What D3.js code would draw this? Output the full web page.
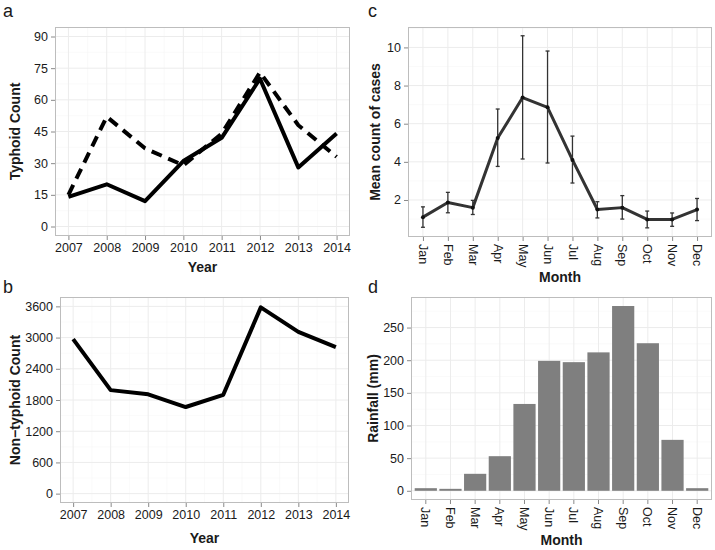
<!DOCTYPE html>
<html>
<head>
<meta charset="utf-8">
<script src="https://cdn.jsdelivr.net/npm/d3@7"></script>
<style>
body{margin:0;background:#fff;}
text{font-family:"Liberation Sans",Arial,sans-serif;}
</style>
</head>
<body>
<svg id="c" width="715" height="550"></svg>
<script>
// ---- data ----
const years = [2007,2008,2009,2010,2011,2012,2013,2014];
const typhoidSolid = [14,20,12,31,42,70,28,44];
const typhoidDashed = [15,52,37,29,44,73,48,33];
const nonTyphoid = [2970,1990,1910,1665,1900,3580,3110,2815];
const months = ["Jan","Feb","Mar","Apr","May","Jun","Jul","Aug","Sep","Oct","Nov","Dec"];
const meanCases = [1.1,1.87,1.6,5.25,7.37,6.86,4.1,1.5,1.6,0.98,0.98,1.5];
const caseLow  = [0.57,1.33,1.24,3.76,4.15,3.94,2.89,1.06,1.0,0.54,0.62,0.92];
const caseHigh = [1.64,2.4,1.98,6.77,10.61,9.81,5.35,1.91,2.23,1.42,1.32,2.08];
const rainfall = [4,3,26,53,133,199,197,212,283,226,78,4];
const typhoidTicks = [0,15,30,45,60,75,90];
const nonTyphoidTicks = [0,600,1200,1800,2400,3000,3600];
const caseTicks = [2,4,6,8,10];
const rainTicks = [0,50,100,150,200,250];

const svg = d3.select("#c");
const borderCol = "#bdbdbd", gridMajor = "#ececec", gridMinor = "#f7f7f7", tickCol = "#8a8a8a", txtCol = "#1a1a1a";

function frame(x0,x1,y0,y1){
  svg.append("rect").attr("x",x0).attr("y",y0).attr("width",x1-x0).attr("height",y1-y0).attr("fill","#fff");
}
function hgrid(y, vals, x0, x1, col, w){
  svg.append("g").selectAll("line").data(vals).join("line")
    .attr("x1",x0).attr("x2",x1).attr("y1",d=>y(d)).attr("y2",d=>y(d))
    .attr("stroke",col).attr("stroke-width",w);
}
function vgrid(xf, vals, y0, y1, col, w){
  svg.append("g").selectAll("line").data(vals).join("line")
    .attr("y1",y0).attr("y2",y1).attr("x1",d=>xf(d)).attr("x2",d=>xf(d))
    .attr("stroke",col).attr("stroke-width",w);
}
function border(x0,x1,y0,y1){
  svg.append("rect").attr("x",x0+0.5).attr("y",y0+0.5).attr("width",x1-x0-1).attr("height",y1-y0-1)
    .attr("fill","none").attr("stroke",borderCol).attr("stroke-width",1);
}
function yAxis(y, ticks, x0){
  const g = svg.append("g").attr("transform",`translate(${x0},0)`)
    .call(d3.axisLeft(y).tickValues(ticks).tickFormat(d3.format("d")).tickSize(4).tickPadding(3));
  g.select(".domain").remove();
  g.selectAll(".tick line").attr("stroke",tickCol);
  g.selectAll(".tick text").attr("fill",txtCol).style("font-size","12.5px").style("font-family","Liberation Sans, Arial, sans-serif");
}
function xAxisYears(x, y1){
  const g = svg.append("g").attr("transform",`translate(0,${y1})`)
    .call(d3.axisBottom(x).tickValues(years).tickFormat(d3.format("d")).tickSize(4).tickPadding(3));
  g.select(".domain").remove();
  g.selectAll(".tick line").attr("stroke",tickCol);
  g.selectAll(".tick text").attr("fill",txtCol).style("font-size","12.5px").style("font-family","Liberation Sans, Arial, sans-serif");
}
function xAxisMonths(x, y1){
  const g = svg.append("g").attr("transform",`translate(0,${y1})`)
    .call(d3.axisBottom(x).tickSize(4).tickPadding(3));
  g.select(".domain").remove();
  g.selectAll(".tick line").attr("stroke",tickCol);
  g.selectAll(".tick text").attr("fill",txtCol).style("font-size","12.5px").style("font-family","Liberation Sans, Arial, sans-serif")
    .attr("transform","rotate(90)").attr("text-anchor","start").attr("dy","0.35em").attr("x",7).attr("y",0);
}
function title(t,x,y,rot){
  const el = svg.append("text").text(t).attr("font-weight","bold").attr("font-size","14px").attr("fill",txtCol).attr("text-anchor","middle");
  if(rot) el.attr("transform",`translate(${x},${y}) rotate(-90)`).attr("dy","0.35em");
  else el.attr("x",x).attr("y",y);
}
function letter(t,x,y){
  svg.append("text").text(t).attr("x",x).attr("y",y).attr("font-size","18px").attr("fill",txtCol);
}

// ---- Panel a ----
{
  const x0=55,x1=350,y0=27,y1=236;
  const x = d3.scaleLinear().domain([2006.65,2014.35]).range([x0,x1]);
  const y = d3.scaleLinear().domain([-4.5,94.5]).range([y1,y0]);
  frame(x0,x1,y0,y1);
  hgrid(y,[7.5,22.5,37.5,52.5,67.5,82.5],x0,x1,gridMinor,0.6);
  vgrid(x,[2007.5,2008.5,2009.5,2010.5,2011.5,2012.5,2013.5],y0,y1,gridMinor,0.6);
  hgrid(y,typhoidTicks,x0,x1,gridMajor,1);
  vgrid(x,years,y0,y1,gridMajor,1);
  border(x0,x1,y0,y1);
  const line = d3.line().x((d,i)=>x(years[i])).y(d=>y(d));
  svg.append("path").datum(typhoidDashed).attr("d",line).attr("fill","none").attr("stroke","#000")
    .attr("stroke-width",4).attr("stroke-dasharray","11,7");
  svg.append("path").datum(typhoidSolid).attr("d",line).attr("fill","none").attr("stroke","#000")
    .attr("stroke-width",4).attr("stroke-linejoin","round");
  yAxis(y,typhoidTicks,x0);
  xAxisYears(x,y1);
  title("Year",(x0+x1)/2,272);
  title("Typhoid Count",15,(y0+y1)/2,true);
  letter("a",3,17);
}

// ---- Panel b ----
{
  const x0=60,x1=349,y0=297,y1=503;
  const x = d3.scaleLinear().domain([2006.65,2014.35]).range([x0,x1]);
  const y = d3.scaleLinear().domain([-180,3780]).range([y1,y0]);
  frame(x0,x1,y0,y1);
  hgrid(y,[300,900,1500,2100,2700,3300],x0,x1,gridMinor,0.6);
  vgrid(x,[2007.5,2008.5,2009.5,2010.5,2011.5,2012.5,2013.5],y0,y1,gridMinor,0.6);
  hgrid(y,nonTyphoidTicks,x0,x1,gridMajor,1);
  vgrid(x,years,y0,y1,gridMajor,1);
  border(x0,x1,y0,y1);
  const line = d3.line().x((d,i)=>x(years[i])).y(d=>y(d));
  svg.append("path").datum(nonTyphoid).attr("d",line).attr("fill","none").attr("stroke","#000")
    .attr("stroke-width",4).attr("stroke-linejoin","round");
  yAxis(y,nonTyphoidTicks,x0);
  xAxisYears(x,y1);
  title("Year",(x0+x1)/2,543);
  title("Non\u2212typhoid Count",15,(y0+y1)/2,true);
  letter("b",3,293);
}

// ---- Panel c ----
{
  const x0=408,x1=712,y0=27,y1=237;
  const x = d3.scalePoint().domain(months).range([x0,x1]).padding(0.6);
  const y = d3.scaleLinear().domain([0.06,11.07]).range([y1,y0]);
  frame(x0,x1,y0,y1);
  hgrid(y,[1,3,5,7,9,11],x0,x1,gridMinor,0.6);
  hgrid(y,caseTicks,x0,x1,gridMajor,1);
  vgrid(x,months,y0,y1,gridMajor,1);
  border(x0,x1,y0,y1);
  const g = svg.append("g");
  g.selectAll("line.eb").data(months).join("line").attr("class","eb")
    .attr("x1",d=>x(d)).attr("x2",d=>x(d)).attr("y1",(d,i)=>y(caseLow[i])).attr("y2",(d,i)=>y(caseHigh[i]))
    .attr("stroke","#333").attr("stroke-width",1.3);
  g.selectAll("line.cl").data(months).join("line").attr("class","cl")
    .attr("x1",d=>x(d)-2).attr("x2",d=>x(d)+2).attr("y1",(d,i)=>y(caseLow[i])).attr("y2",(d,i)=>y(caseLow[i]))
    .attr("stroke","#333").attr("stroke-width",1.3);
  g.selectAll("line.ch").data(months).join("line").attr("class","ch")
    .attr("x1",d=>x(d)-2).attr("x2",d=>x(d)+2).attr("y1",(d,i)=>y(caseHigh[i])).attr("y2",(d,i)=>y(caseHigh[i]))
    .attr("stroke","#333").attr("stroke-width",1.3);
  const line = d3.line().x((d,i)=>x(months[i])).y(d=>y(d));
  svg.append("path").datum(meanCases).attr("d",line).attr("fill","none").attr("stroke","#333")
    .attr("stroke-width",3).attr("stroke-linejoin","round");
  svg.append("g").selectAll("circle").data(meanCases).join("circle")
    .attr("cx",(d,i)=>x(months[i])).attr("cy",d=>y(d)).attr("r",2).attr("fill","#111");
  yAxis(y,caseTicks,x0);
  xAxisMonths(x,y1);
  title("Month",(x0+x1)/2,282);
  title("Mean count of cases",375,(y0+y1)/2,true);
  letter("c",368,17);
}

// ---- Panel d ----
{
  const x0=411,x1=712,y0=297,y1=500;
  const x = d3.scaleBand().domain(months).range([x0,x1]).paddingInner(0.1).paddingOuter(0.15);
  const y = d3.scaleLinear().domain([-14.1,296.8]).range([y1,y0]);
  frame(x0,x1,y0,y1);
  hgrid(y,[25,75,125,175,225,275],x0,x1,gridMinor,0.6);
  hgrid(y,rainTicks,x0,x1,gridMajor,1);
  vgrid(d=>x(d)+x.bandwidth()/2,months,y0,y1,gridMajor,1);
  border(x0,x1,y0,y1);
  svg.append("g").selectAll("rect").data(rainfall).join("rect")
    .attr("x",(d,i)=>x(months[i])).attr("width",x.bandwidth())
    .attr("y",d=>y(d)).attr("height",d=>y(0)-y(d)).attr("fill","#7f7f7f");
  yAxis(y,rainTicks,x0);
  xAxisMonths(x,y1);
  title("Month",(x0+x1)/2,545);
  title("Rainfall (mm)",373,(y0+y1)/2,true);
  letter("d",368,293);
}
</script>
</body>
</html>
